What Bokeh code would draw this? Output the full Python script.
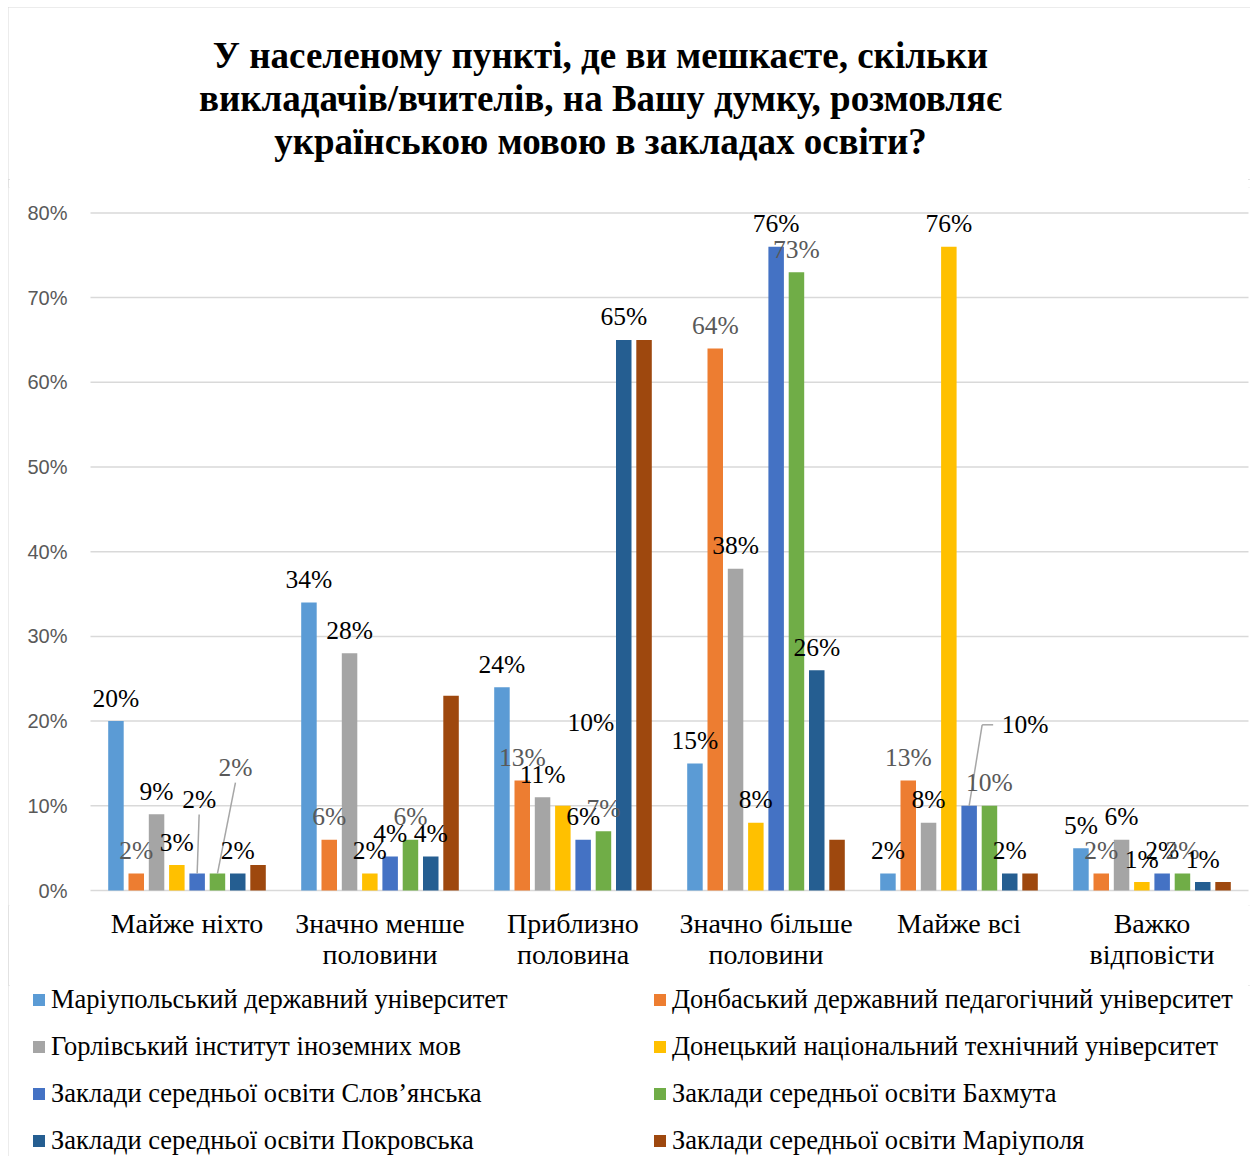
from bokeh.plotting import figure
from bokeh.layouts import column
from bokeh.models import ColumnDataSource, Range1d, FixedTicker, Legend, LegendItem
from bokeh.core.properties import value
from bokeh.embed import file_html
from bokeh.resources import INLINE

# ---------------- data ----------------
title_lines = [
    "У населеному пункті, де ви мешкаєте, скільки",
    "викладачів/вчителів, на Вашу думку, розмовляє",
    "українською мовою в закладах освіти?",
]
categories = ["Майже ніхто", "Значно менше\nполовини", "Приблизно\nполовина",
              "Значно більше\nполовини", "Майже всі", "Важко\nвідповісти"]
series_names = [
    "Маріупольський державний університет",
    "Донбаський державний педагогічний університет",
    "Горлівський інститут іноземних мов",
    "Донецький національний технічний університет",
    "Заклади середньої освіти Слов’янська",
    "Заклади середньої освіти Бахмута",
    "Заклади середньої освіти Покровська",
    "Заклади середньої освіти Маріуполя",
]
mariupol_univ = [20, 34, 24, 15, 2, 5]
donbas_ped = [2, 6, 13, 64, 13, 2]
horlivka_inst = [9, 28, 11, 38, 8, 6]
donetsk_tech = [3, 2, 10, 8, 76, 1]
sloviansk_schools = [2, 4, 6, 76, 10, 2]
bakhmut_schools = [2, 6, 7, 73, 10, 2]
pokrovsk_schools = [2, 4, 65, 26, 2, 1]
mariupol_schools = [3, 23, 65, 6, 2, 1]
series_values = [mariupol_univ, donbas_ped, horlivka_inst, donetsk_tech,
                 sloviansk_schools, bakhmut_schools, pokrovsk_schools, mariupol_schools]
y_ticks = [0, 0.1, 0.2, 0.3, 0.4, 0.5, 0.6, 0.7, 0.8]
y_tick_labels = ["0%", "10%", "20%", "30%", "40%", "50%", "60%", "70%", "80%"]

# ---------------- style ----------------
colors = ["#5B9BD5", "#ED7D31", "#A5A5A5", "#FFC000", "#4472C4", "#70AD47", "#255E91", "#9E480E"]
label_colors = ["#000000", "#595959", "#000000", "#000000", "#000000", "#595959", "#000000", None]
SERIF = "Liberation Serif"
BORDER = "#D9D9D9"
W = 1242
TITLE_H, MAIN_H, LEG_H = 172, 806, 171
FL, FR, FT, FB = 82, 2, 8, 80          # space around the bar area
PAD_BELOW = 15                          # px of frame kept below the 0 line
n_cat = len(categories)
px_x = (W - FL - FR) / n_cat
frame_h = MAIN_H - FT - FB
Y_MAX = 0.83
px_y = (frame_h - PAD_BELOW) / Y_MAX
slot = 20.3 / px_x
bar_w = 15.5 / px_x
LABEL_UP = 23
# manual label nudges (series, category) -> (dx px, extra up px, leader)
nudges = {(4, 0): (2, 51, "straight"), (5, 0): (18, 83, "straight"),
          (3, 2): (28, 60, None), (4, 4): (56, 58, "elbow")}


def bare_figure(height, xr, yr, **kw):
    f = figure(width=W, height=height, x_range=xr, y_range=yr,
               output_backend="svg", toolbar_location=None,
               y_axis_location=None, min_border_left=0, min_border_right=0, **kw)
    f.grid.visible = False
    f.outline_line_color = None
    return f


# ---------------- title ----------------
pt = bare_figure(TITLE_H, Range1d(0, W), Range1d(0, TITLE_H), x_axis_location=None,
                 min_border_top=0, min_border_bottom=0)
pt.text(x=[592] * 3, y=[TITLE_H - 48 - 43 * k for k in range(3)], text=title_lines,
        text_font=value(SERIF), text_font_size="37px", text_font_style="bold",
        text_color="#000000", text_align="center", text_baseline="middle")

# ---------------- main chart ----------------
p = bare_figure(MAIN_H, Range1d(-FL / px_x, n_cat + FR / px_x),
                Range1d(-PAD_BELOW / px_y, Y_MAX),
                min_border_top=FT, min_border_bottom=FB)

# value gridlines (including the category axis line at 0) and their labels
p.segment(x0=[0] * len(y_ticks), y0=y_ticks, x1=[n_cat] * len(y_ticks), y1=y_ticks,
          line_color=BORDER, line_width=1.5)
p.text(x=[0] * len(y_ticks), y=y_ticks, text=y_tick_labels, x_offset=-23,
       text_font=value("Liberation Sans"), text_font_size="20px", text_color="#595959",
       text_align="right", text_baseline="middle")

lx, ly, ltxt, lcol, ldx, ldy = [], [], [], [], [], []
seg_x0, seg_y0, seg_x1, seg_y1 = [], [], [], []
for j, (name, vals) in enumerate(zip(series_names, series_values)):
    xs = [i + 0.5 + (j - 3.5) * slot for i in range(n_cat)]
    tops = [v / 100 for v in vals]
    src = ColumnDataSource(dict(x=xs, top=tops))
    p.vbar(x="x", top="top", width=bar_w, bottom=0, source=src,
           fill_color=colors[j], line_color=None)
    if label_colors[j] is None:
        continue
    for i, (x, t, v) in enumerate(zip(xs, tops, vals)):
        dx, up, leader = nudges.get((j, i), (0, 0, None))
        lx.append(x); ly.append(t); ltxt.append(f"{v}%"); lcol.append(label_colors[j])
        ldx.append(dx); ldy.append(-(LABEL_UP + up))
        if leader == "straight":
            seg_x0.append(x); seg_y0.append(t)
            seg_x1.append(x + dx / px_x); seg_y1.append(t + (LABEL_UP + up - 15) / px_y)
        elif leader == "elbow":
            ex = x + 13 / px_x
            ey = t + (LABEL_UP + up) / px_y
            seg_x0 += [x, ex]; seg_y0 += [t, ey]
            seg_x1 += [ex, x + 24 / px_x]; seg_y1 += [ey, ey]

p.segment(x0=seg_x0, y0=seg_y0, x1=seg_x1, y1=seg_y1, line_color="#A6A6A6", line_width=1.5)
lab_src = ColumnDataSource(dict(x=lx, y=ly, text=ltxt, color=lcol, dx=ldx, dy=ldy))
p.text(x="x", y="y", text="text", source=lab_src, text_color="color",
       x_offset="dx", y_offset="dy", text_font=value(SERIF), text_font_size="25.5px",
       text_align="center", text_baseline="middle")

p.xaxis.ticker = FixedTicker(ticks=[i + 0.5 for i in range(n_cat)])
p.xaxis.major_label_overrides = {i + 0.5: c for i, c in enumerate(categories)}
p.xaxis.axis_line_color = None
p.xaxis.major_tick_line_color = None
p.xaxis.major_tick_out = 0
p.xaxis.major_tick_in = 0
p.xaxis.minor_tick_line_color = None
p.xaxis.major_label_text_font = SERIF
p.xaxis.major_label_text_font_size = "28px"
p.xaxis.major_label_text_line_height = 1.0
p.xaxis.major_label_text_color = "#000000"
p.xaxis.major_label_standoff = 2

# ---------------- legend ----------------
pl = bare_figure(LEG_H, Range1d(0, 1), Range1d(0, 1), x_axis_location=None,
                 min_border_top=0, min_border_bottom=0)
items = []
for name, c in zip(series_names, colors):
    r = pl.vbar(x=[-5], top=[-5], width=0.1, fill_color=c, line_color=None)
    items.append(LegendItem(label=name, renderers=[r]))
legend = Legend(items=items, location=(23, 0), orientation="horizontal", ncols=2,
                glyph_width=15, glyph_height=15, label_standoff=5, label_height=30,
                label_width=585, spacing=16, padding=0, margin=0,
                label_text_font=SERIF, label_text_font_size="26.5px", label_text_color="#000000",
                border_line_color=None, background_fill_alpha=0)
pl.add_layout(legend, "center")

layout = column(pt, p, pl, spacing=0, margin=(7, 0, 0, 8))
layout.styles = {"outline": f"2px solid {BORDER}", "outline-offset": "-2px"}
open("out.html", "w").write(file_html(layout, INLINE))
